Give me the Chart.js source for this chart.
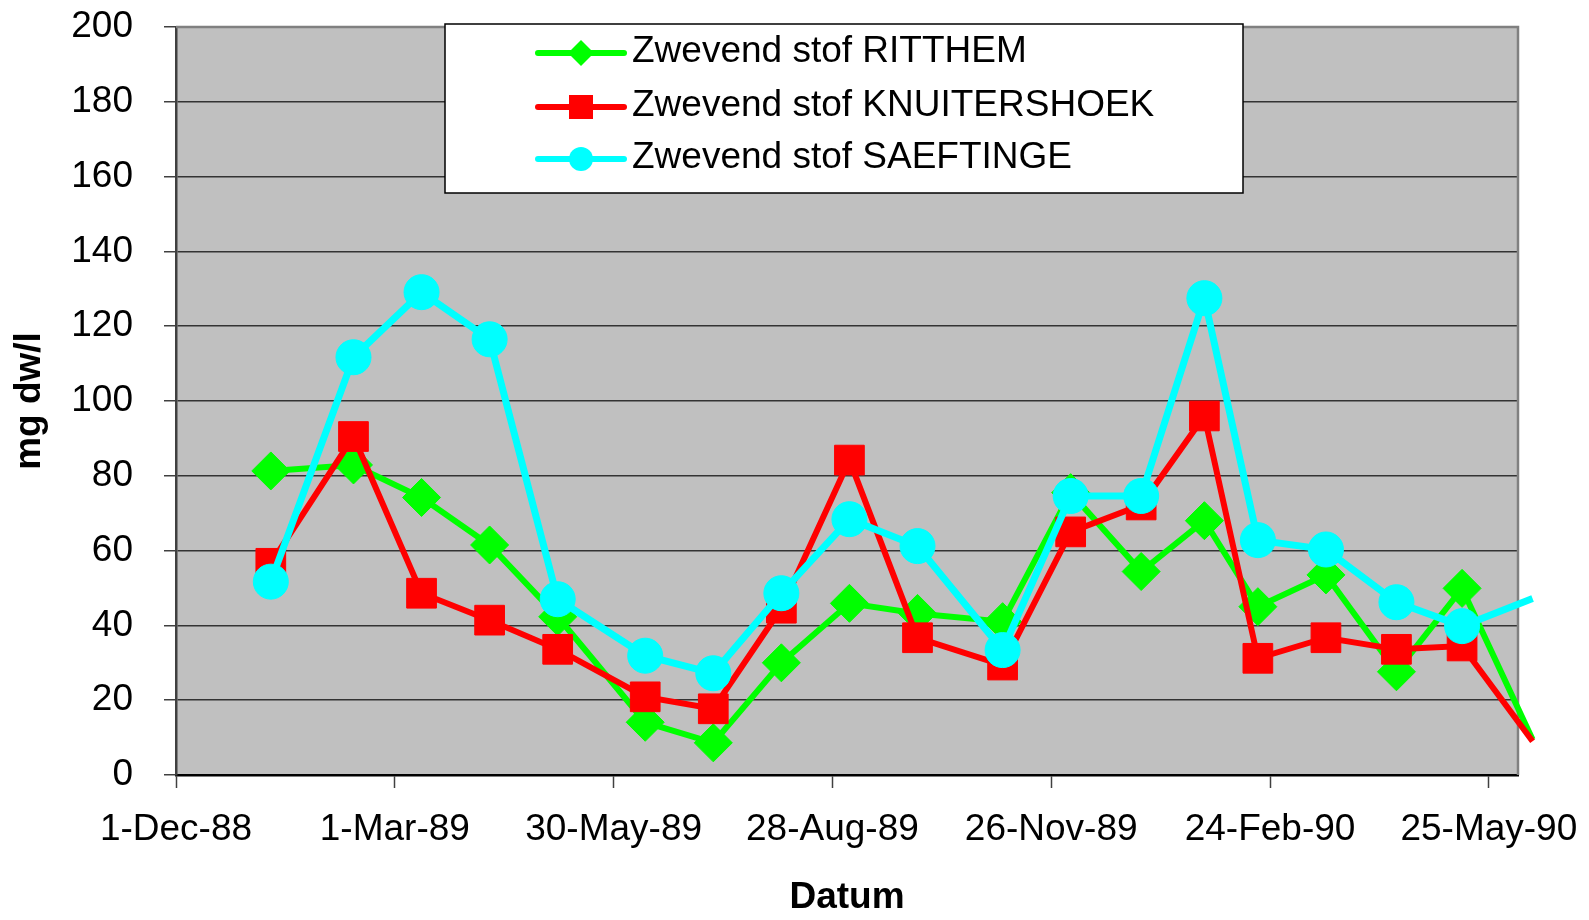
<!DOCTYPE html>
<html>
<head>
<meta charset="utf-8">
<title>Zwevend stof</title>
<script src="https://cdn.jsdelivr.net/npm/chart.js@4.4.1/dist/chart.umd.min.js"></script>
<style>
    html, body { margin: 0; padding: 0; background: #ffffff; }
    #wrap { width: 1589px; height: 920px; }
</style>
</head>
<body>
<div id="wrap"><canvas id="chart" width="1589" height="920"></canvas></div>
<script>
// sampling dates
const sampleDates = [
    '1989-01-09', '1989-02-12', '1989-03-12', '1989-04-09', '1989-05-07',
    '1989-06-12', '1989-07-10', '1989-08-07', '1989-09-04', '1989-10-02',
    '1989-11-06', '1989-12-04', '1990-01-02', '1990-01-28', '1990-02-19',
    '1990-03-19', '1990-04-17', '1990-05-14', '1990-06-12'
];

// mg dw/l
const ritthem = [81.3, 82.9, 74.2, 61.5, 42.3, 14.1, 8.6, 30.0, 45.9, 43.2, 41.0, 75.5, 54.4, 68.0, 45.0, 53.5, 27.6, 49.9, 9.5];
const knuitershoek = [56.6, 90.5, 48.6, 41.4, 33.6, 20.9, 17.7, 44.6, 84.2, 36.7, 29.4, 65.0, 72.2, 96.0, 31.2, 36.7, 33.6, 34.5, 9.0];
const saeftinge = [51.7, 111.7, 129.1, 116.5, 47.0, 31.9, 27.2, 48.6, 68.4, 61.2, 33.4, 74.6, 74.6, 127.5, 62.8, 60.3, 46.2, 39.8, 47.2];

const seriesNames = ['Zwevend stof RITTHEM', 'Zwevend stof KNUITERSHOEK', 'Zwevend stof SAEFTINGE'];

// date axis: starts 1-Dec-88, a tick every 90 days
const axisStart = '1988-12-01';
const axisEnd = '1990-06-06';
const xTickLabels = ['1-Dec-88', '1-Mar-89', '30-May-89', '28-Aug-89', '26-Nov-89', '24-Feb-90', '25-May-90'];
const xTickStep = 90;
const yMin = 0;
const yMax = 200;
const yStep = 20;

const DAY = 86400000;
function dayOf(d) {
    return (Date.parse(d) - Date.parse(axisStart)) / DAY;
}
const X_MAX = dayOf(axisEnd);

function toPoints(values) {
    return values.map((v, i) => ({ x: dayOf(sampleDates[i]), y: v }));
}

const FONT = '"Liberation Sans", Arial, Helvetica, sans-serif';

// marker is only drawn inside the plot area, the line runs on a bit
function markerRadius(r) {
    return ctx => (ctx.raw && ctx.raw.x > X_MAX ? 0 : r);
}

// keep the plot area where the reference has it, labels may hang over
function noOverhang(scale) {
    scale.paddingTop = 0;
    scale.paddingBottom = 0;
    scale.paddingLeft = 0;
    scale.paddingRight = 0;
}

const styles = [
    { color: '#00ff00', pointStyle: 'rectRot', radius: 19, legendRadius: 13, order: 2 },
    { color: '#ff0000', pointStyle: 'rect', radius: 21, legendRadius: 17, order: 1 },
    { color: '#00ffff', pointStyle: 'circle', radius: 17.5, legendRadius: 12, order: 0 }
];
const seriesValues = [ritthem, knuitershoek, saeftinge];

const datasets = seriesValues.map((vals, i) => ({
    label: seriesNames[i],
    data: toPoints(vals),
    borderColor: styles[i].color,
    backgroundColor: styles[i].color,
    borderWidth: i === 2 ? 7 : 6,
    pointStyle: styles[i].pointStyle,
    pointRadius: markerRadius(styles[i].radius),
    pointBorderWidth: 1,
    pointBorderColor: styles[i].color,
    pointBackgroundColor: styles[i].color,
    tension: 0,
    order: styles[i].order,
    clip: { left: false, top: false, right: 21, bottom: false }
}));

// grey plot area with its frame
const plotArea = {
    id: 'plotArea',
    beforeDraw(chart) {
        const { ctx, chartArea: a } = chart;
        ctx.save();
        ctx.fillStyle = '#c0c0c0';
        ctx.fillRect(a.left, a.top, a.right - a.left, a.bottom - a.top);
        ctx.restore();
    },
    beforeDatasetsDraw(chart) {
        const { ctx, chartArea: a } = chart;
        ctx.save();
        ctx.strokeStyle = '#808080';
        ctx.lineWidth = 2.5;
        ctx.beginPath();
        ctx.moveTo(a.left, a.top);
        ctx.lineTo(a.right, a.top);
        ctx.lineTo(a.right, a.bottom);
        ctx.stroke();
        ctx.restore();
    }
};

// Excel style legend box inside the plot
const boxLegend = {
    id: 'boxLegend',
    afterDatasetsDraw(chart) {
        const ctx = chart.ctx;
        const box = { left: 445, top: 24, right: 1243, bottom: 193 };
        const rows = [53, 107, 159];
        ctx.save();
        ctx.fillStyle = '#ffffff';
        ctx.strokeStyle = '#000000';
        ctx.lineWidth = 1.5;
        ctx.fillRect(box.left, box.top, box.right - box.left, box.bottom - box.top);
        ctx.strokeRect(box.left, box.top, box.right - box.left, box.bottom - box.top);

        chart.data.datasets.forEach((ds, i) => {
            const y = rows[i];
            ctx.strokeStyle = ds.borderColor;
            ctx.lineWidth = 6;
            ctx.lineCap = 'round';
            ctx.beginPath();
            ctx.moveTo(538, y);
            ctx.lineTo(624, y);
            ctx.stroke();

            ctx.fillStyle = ds.backgroundColor;
            Chart.helpers.drawPoint(ctx, {
                pointStyle: ds.pointStyle,
                rotation: 0,
                radius: styles[i].legendRadius,
                borderWidth: 0
            }, 581, y);

            ctx.fillStyle = '#000000';
            ctx.font = '37px ' + FONT;
            ctx.textAlign = 'left';
            ctx.textBaseline = 'alphabetic';
            ctx.fillText(ds.label, 632, y + 9);
        });
        ctx.restore();
    }
};

new Chart(document.getElementById('chart'), {
    type: 'line',
    data: { datasets: datasets },
    plugins: [plotArea, boxLegend],
    options: {
        responsive: false,
        animation: false,
        devicePixelRatio: 1,
        layout: {
            autoPadding: false,
            padding: { top: 27, right: 71, bottom: 0, left: 0 }
        },
        scales: {
            x: {
                type: 'linear',
                min: 0,
                max: X_MAX,
                afterFit: scale => {
                    scale.height = 145;
                    noOverhang(scale);
                },
                border: { display: true, color: '#000000', width: 2.5 },
                grid: {
                    drawOnChartArea: false,
                    drawTicks: true,
                    tickLength: 13,
                    tickColor: '#404040',
                    tickWidth: 1.5
                },
                ticks: {
                    stepSize: xTickStep,
                    includeBounds: false,
                    autoSkip: false,
                    maxRotation: 0,
                    padding: 20,
                    color: '#000000',
                    font: { family: FONT, size: 37 },
                    callback: value => xTickLabels[Math.round(value / xTickStep)] || ''
                },
                title: {
                    display: true,
                    text: 'Datum',
                    color: '#000000',
                    font: { family: FONT, size: 37, weight: 'bold' },
                    padding: { top: 0, bottom: 0 }
                }
            },
            y: {
                min: yMin,
                max: yMax,
                afterFit: scale => {
                    scale.width = 176;
                    noOverhang(scale);
                },
                border: { display: true, color: '#404040', width: 2.5 },
                grid: {
                    color: '#333333',
                    lineWidth: 1.5,
                    drawTicks: true,
                    tickLength: 12,
                    tickColor: '#404040',
                    tickWidth: 1.5
                },
                ticks: {
                    stepSize: yStep,
                    padding: 31,
                    color: '#000000',
                    font: { family: FONT, size: 37 }
                },
                title: {
                    display: true,
                    text: 'mg dw/l',
                    color: '#000000',
                    font: { family: FONT, size: 37, weight: 'bold' },
                    padding: { top: 8, bottom: 0 }
                }
            }
        },
        plugins: {
            legend: { display: false },
            tooltip: { enabled: false }
        }
    }
});
</script>
</body>
</html>
